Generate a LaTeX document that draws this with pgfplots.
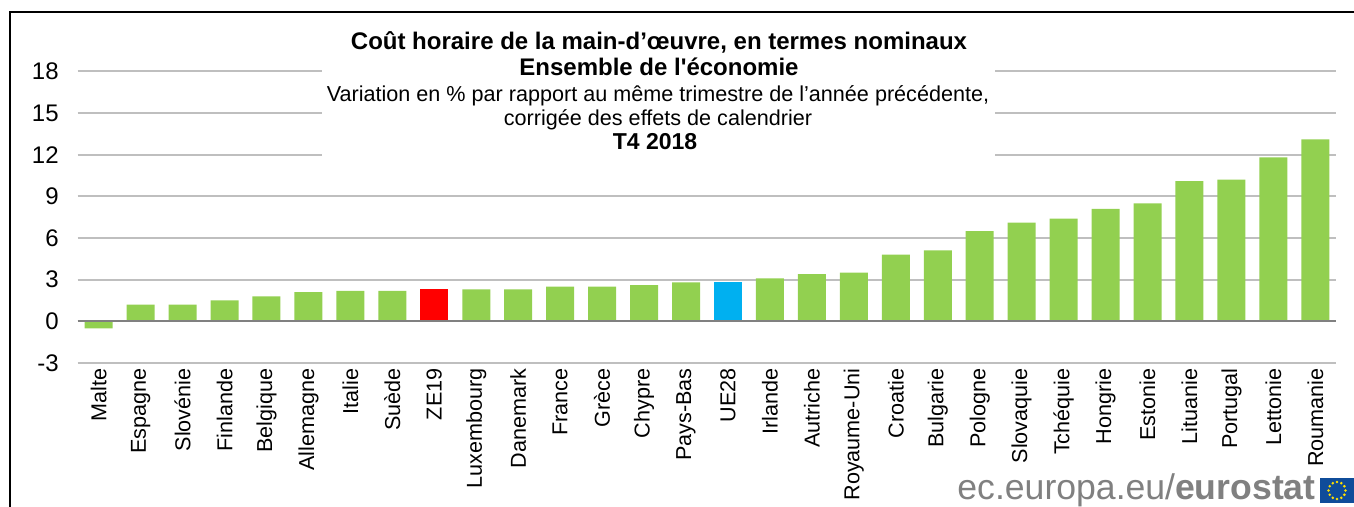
\documentclass[border=0pt]{standalone}
\usepackage{pgfplots}
\pgfplotsset{compat=1.18}
\usepackage{fontspec}
\setmainfont{Liberation Sans}[Ligatures=TeXOff]
\definecolor{barg}{HTML}{92D050}
\definecolor{barr}{HTML}{FF0000}
\definecolor{barb}{HTML}{00B0F0}
\definecolor{gridc}{HTML}{BFBFBF}
\definecolor{logoc}{HTML}{808080}
\definecolor{flagb}{HTML}{0F4C9A}
\definecolor{stary}{HTML}{FFE000}
\begin{document}
\begin{tikzpicture}
\useasboundingbox (0pt,0pt) rectangle (677pt,253.5pt);
\begin{axis}[
  at={(38.85pt,72pt)}, anchor=south west,
  scale only axis, width=629.3pt, height=145.85pt,
  xmin=-0.5, xmax=29.5, ymin=-3, ymax=18,
  ytick={-3,0,3,6,9,12,15,18},
  yticklabels={-3,0,3,6,9,12,15,18},
  xtick={0,...,29},
  xticklabels={Malte,Espagne,Slovénie,Finlande,Belgique,Allemagne,Italie,Suède,ZE19,Luxembourg,Danemark,France,Grèce,Chypre,Pays-Bas,UE28,Irlande,Autriche,Royaume-Uni,Croatie,Bulgarie,Pologne,Slovaquie,Tchéquie,Hongrie,Estonie,Lituanie,Portugal,Lettonie,Roumanie},
  major tick length=0pt,
  axis line style={draw=none},
  ymajorgrids, major grid style={draw=gridc, line width=1pt},
  yticklabel style={font=\fontsize{12}{14}\selectfont, anchor=east, xshift=-6pt},
  xticklabel style={font=\fontsize{10.8}{13}\selectfont, rotate=90, anchor=east, yshift=0pt, xshift=-1.5pt, inner sep=1pt},
  ybar, bar width=14pt,
]
\addplot[fill=barg, draw=none, bar shift=0pt] coordinates {(0,-0.5)(1,1.2)(2,1.2)(3,1.5)(4,1.8)(5,2.1)(6,2.2)(7,2.2)(9,2.3)(10,2.3)(11,2.5)(12,2.5)(13,2.6)(14,2.8)(16,3.1)(17,3.4)(18,3.5)(19,4.8)(20,5.1)(21,6.5)(22,7.1)(23,7.4)(24,8.1)(25,8.5)(26,10.1)(27,10.2)(28,11.8)(29,13.1)};
\addplot[fill=barr, draw=none, bar shift=0pt] coordinates {(8,2.3)};
\addplot[fill=barb, draw=none, bar shift=0pt] coordinates {(15,2.8)};
\draw[draw=logoc, line width=1pt] (axis cs:-0.5,0) -- (axis cs:29.5,0);
\end{axis}
\begin{scope}[x=0.5pt,y=0.5pt]
\fill[white] (322,342) rectangle (995,460);
\draw[black, line width=1pt] (1354,495) -- (10,495) -- (10,0);
\node[anchor=base, font=\fontsize{12}{14}\selectfont\bfseries, inner sep=0pt] at (659,457) {Coût horaire de la main-d’œuvre, en termes nominaux};
\node[anchor=base, font=\fontsize{12}{14}\selectfont\bfseries, inner sep=0pt] at (659,431) {Ensemble de l'économie};
\node[anchor=base, font=\fontsize{10.8}{13}\selectfont, inner sep=0pt] at (658,405) {Variation en \% par rapport au même trimestre de l’année précédente,};
\node[anchor=base, font=\fontsize{10.8}{13}\selectfont, inner sep=0pt] at (658,381) {corrigée des effets de calendrier};
\node[anchor=base, font=\fontsize{11.5}{13}\selectfont\bfseries, inner sep=0pt] at (655,357) {T4 2018};
\node[anchor=base east, font=\fontsize{17.8}{21}\selectfont, text=logoc, inner sep=0pt] at (1316,7) {ec.europa.eu/\textbf{eurostat}};
\fill[flagb] (1320,4) rectangle (1354,29);
\foreach \a in {0,30,...,330} \fill[stary] ({1337+8.5*cos(\a)},{16.5+8.5*sin(\a)}) circle (1.4);
\end{scope}
\end{tikzpicture}
\end{document}
